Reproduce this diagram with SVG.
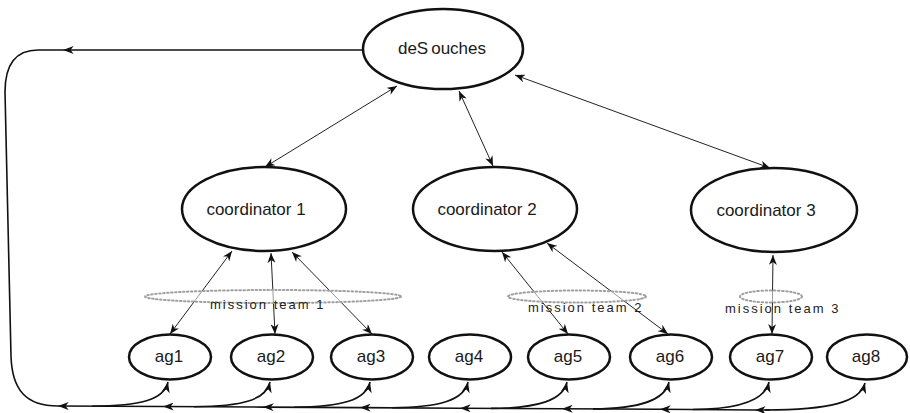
<svg xmlns="http://www.w3.org/2000/svg" width="910" height="413" viewBox="0 0 910 413">
  <defs>
    <style>
      .node { fill: #ffffff; stroke: #111111; stroke-width: 2.5; }
      .label { font-family: "Liberation Sans", Arial, sans-serif; font-size: 17px; fill: #1a1a1a; text-anchor: middle; }
      .team { fill: #ffffff; fill-opacity: 0.55; stroke: #a0a0a0; stroke-width: 2; stroke-dasharray: 1.5 2.5; stroke-linecap: round; }
      .team-label { font-family: "Liberation Sans", Arial, sans-serif; font-size: 13px; letter-spacing: 2px; fill: #222222; }
      .link { fill: none; stroke: #222222; stroke-width: 1; }
      .bus { fill: none; stroke: #111111; stroke-width: 1.6; }
    </style>
    <marker id="tip" viewBox="0 0 10 8" refX="10" refY="4" markerWidth="10" markerHeight="8" markerUnits="userSpaceOnUse" orient="auto-start-reverse">
      <path d="M0,0 L10,4 L0,8 L3,4 Z" fill="#111111"/>
    </marker>
    <marker id="tipBig" viewBox="0 0 12 9" refX="12" refY="4.5" markerWidth="11" markerHeight="8" markerUnits="userSpaceOnUse" orient="auto-start-reverse">
      <path d="M0,0 L12,4.5 L0,9 L3.5,4.5 Z" fill="#111111"/>
    </marker>
  </defs>

  <!-- connectors -->
  <g id="connectors">
    <!-- deSouches to coordinators -->
    <path class="link" d="M397,86 L265,167" marker-start="url(#tip)" marker-end="url(#tip)"/>
    <path class="link" d="M459,91 L493,166" marker-start="url(#tip)" marker-end="url(#tip)"/>
    <path class="link" d="M515,75 L770,168" marker-start="url(#tip)" marker-end="url(#tip)"/>
    <!-- coordinators to agents -->
    <path class="link" d="M232,251 L170,334" marker-start="url(#tip)" marker-end="url(#tip)"/>
    <path class="link" d="M271,253 L275,334" marker-start="url(#tip)" marker-end="url(#tip)"/>
    <path class="link" d="M292,252 L372,334" marker-start="url(#tip)" marker-end="url(#tip)"/>
    <path class="link" d="M502,252 L568,334" marker-start="url(#tip)" marker-end="url(#tip)"/>
    <path class="link" d="M547,243 L668,334" marker-start="url(#tip)" marker-end="url(#tip)"/>
    <path class="link" d="M773,255 L772,334" marker-start="url(#tip)" marker-end="url(#tip)"/>
    <!-- return loop from deSouches round the left side -->
    <path class="bus" d="M363,50 H63" marker-end="url(#tipBig)"/>
    <path class="bus" d="M63,50 H38 C16,50 5,64 5,92 L11,356 C12,390 26,406 58,406"/>
    <!-- bottom bus with left-pointing heads -->
    <path class="bus" d="M770,410 L755,410 L660,409.3 L562,408.7 L460,408.2 L360,407.6 L263,407.1 L163,406.5 L58,406" marker-mid="url(#tipBig)" marker-end="url(#tipBig)"/>
    <!-- bus to each agent -->
    <path class="bus" d="M92,406.2 C140,406 164,400 168,382" marker-end="url(#tipBig)"/>
    <path class="bus" d="M194,406.7 C242,406.5 266,400 270,382" marker-end="url(#tipBig)"/>
    <path class="bus" d="M294,407.3 C342,407 366,400 370,382" marker-end="url(#tipBig)"/>
    <path class="bus" d="M392,407.8 C440,407.6 464,400 468,382" marker-end="url(#tipBig)"/>
    <path class="bus" d="M491,408.4 C539,408.2 563,400 567,382" marker-end="url(#tipBig)"/>
    <path class="bus" d="M593,408.9 C641,408.7 665,400 669,382" marker-end="url(#tipBig)"/>
    <path class="bus" d="M693,409.5 C741,409.3 765,400 769,382" marker-end="url(#tipBig)"/>
    <path class="bus" d="M765,410 C830,410 860,402 865,383" marker-end="url(#tipBig)"/>
  </g>

  <!-- top-level node -->
  <g id="deSouches">
    <ellipse class="node" cx="443" cy="49" rx="80" ry="40"/>
    <text class="label" x="442" y="54">deS<tspan dx="3">ouches</tspan></text>
  </g>

  <!-- coordinators -->
  <g id="coordinator1">
    <ellipse class="node" cx="264" cy="209" rx="82" ry="42"/>
    <text class="label" x="256" y="215">coordinator 1</text>
  </g>
  <g id="coordinator2">
    <ellipse class="node" cx="495" cy="209" rx="82" ry="42"/>
    <text class="label" x="487" y="215">coordinator 2</text>
  </g>
  <g id="coordinator3">
    <ellipse class="node" cx="774" cy="210" rx="83" ry="42"/>
    <text class="label" x="766" y="216">coordinator 3</text>
  </g>

  <!-- mission teams -->
  <g id="team1">
    <ellipse class="team" cx="273" cy="296.5" rx="128" ry="6.5"/>
    <text class="team-label" x="210" y="309">mission team 1</text>
  </g>
  <g id="team2">
    <ellipse class="team" cx="577" cy="296.5" rx="69" ry="6"/>
    <text class="team-label" x="528" y="312">mission team 2</text>
  </g>
  <g id="team3">
    <ellipse class="team" cx="771" cy="296.5" rx="31" ry="6"/>
    <text class="team-label" x="725" y="313">mission team 3</text>
  </g>

  <!-- agents -->
  <g id="ag1"><ellipse class="node" cx="170" cy="357" rx="41" ry="22.5"/><text class="label" x="169" y="362">ag1</text></g>
  <g id="ag2"><ellipse class="node" cx="272" cy="357" rx="41" ry="22.5"/><text class="label" x="271" y="362">ag2</text></g>
  <g id="ag3"><ellipse class="node" cx="372" cy="357" rx="41" ry="22.5"/><text class="label" x="371" y="362">ag3</text></g>
  <g id="ag4"><ellipse class="node" cx="470" cy="357" rx="41" ry="22.5"/><text class="label" x="469" y="362">ag4</text></g>
  <g id="ag5"><ellipse class="node" cx="569" cy="357" rx="41" ry="22.5"/><text class="label" x="568" y="362">ag5</text></g>
  <g id="ag6"><ellipse class="node" cx="671" cy="357" rx="41" ry="22.5"/><text class="label" x="670" y="362">ag6</text></g>
  <g id="ag7"><ellipse class="node" cx="771" cy="357" rx="41" ry="22.5"/><text class="label" x="770" y="362">ag7</text></g>
  <g id="ag8"><ellipse class="node" cx="867" cy="357" rx="40" ry="22.5"/><text class="label" x="866" y="362">ag8</text></g>
</svg>
